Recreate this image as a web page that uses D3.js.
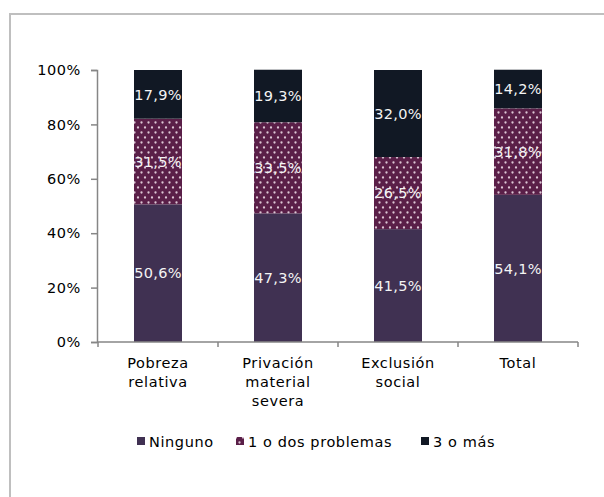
<!DOCTYPE html>
<html><head><meta charset="utf-8">
<script src="https://cdn.jsdelivr.net/npm/d3@7"></script>
<style>
body{margin:0;background:#fff;}
text{font-family:"DejaVu Sans",Verdana,sans-serif;}
</style></head>
<body>
<svg id="c" width="604" height="497"></svg>
<script>
const categories = [["Pobreza","relativa"],["Privación","material","severa"],["Exclusión","social"],["Total"]];
const seriesNames = ["Ninguno","1 o dos problemas","3 o más"];
const ninguno = [50.6, 47.3, 41.5, 54.1];
const unoDos = [31.5, 33.5, 26.5, 31.8];
const tresMas = [17.9, 19.3, 32.0, 14.2];
const yTicks = [0,20,40,60,80,100];
const fmt = v => v.toFixed(1).replace(".", ",") + "%";

const FS = 14.5, LS = "0.6px";
const svg = d3.select("#c");
const defs = svg.append("defs");
const pat = defs.append("pattern").attr("id","dots").attr("patternUnits","userSpaceOnUse")
  .attr("width",7).attr("height",10);
pat.append("rect").attr("width",7).attr("height",10).attr("fill","#5a1f48");
[[1.5,2.5],[5,7.5]].forEach(([x,y])=>{
  pat.append("circle").attr("cx",x).attr("cy",y).attr("r",1.15).attr("fill","#dcc6d4");
});
const colors = ["#403152","url(#dots)","#111824"];
const legendColors = ["#403152","#7a3a68","#111824"];

// outer border
svg.append("rect").attr("x",10).attr("y",14).attr("width",700).attr("height",600)
  .attr("fill","none").attr("stroke","#bfbfbf").attr("stroke-width",2);

const x = d3.scaleBand().domain(d3.range(categories.length)).range([98,578]).paddingInner(0.6).paddingOuter(0.3);
const y = d3.scaleLinear().domain([0,100]).range([342,70]);

const stackData = categories.map((c,i)=>({i, a:ninguno[i], b:unoDos[i], c:tresMas[i]}));
const stack = d3.stack().keys(["a","b","c"])(stackData);

const g = svg.append("g");
stack.forEach((layer,k)=>{
  g.selectAll(null).data(layer).enter().append("rect")
    .attr("x",d=>x(d.data.i)).attr("width",x.bandwidth())
    .attr("y",d=>y(d[1])).attr("height",d=>y(d[0])-y(d[1]))
    .attr("fill",colors[k]);
});
stack.forEach((layer,k)=>{
  g.selectAll(null).data(layer).enter().append("text")
    .attr("x",d=>x(d.data.i)+x.bandwidth()/2)
    .attr("y",d=>(y(d[0])+y(d[1]))/2)
    .attr("dy","0.36em").attr("text-anchor","middle")
    .attr("font-size",FS).attr("letter-spacing","0.3px").attr("fill","#f4f4f4")
    .text(d=>fmt(d[1]-d[0]));
});

// y axis
const yAxis = d3.axisLeft(y).tickValues(yTicks).tickSize(6).tickPadding(10).tickFormat(d=>d+"%");
const ya = svg.append("g").attr("transform","translate(97,0)").call(yAxis);
ya.select(".domain").attr("stroke","#868686").attr("stroke-width",1.5);
ya.selectAll(".tick line").attr("stroke","#868686").attr("stroke-width",1.5);
ya.selectAll(".tick text").attr("font-size",FS).attr("letter-spacing",LS).attr("fill","#000")
  .attr("font-family","DejaVu Sans, Verdana, sans-serif");

// x axis baseline & ticks
const xa = svg.append("g");
xa.append("line").attr("x1",97).attr("x2",578).attr("y1",y(0)).attr("y2",y(0))
  .attr("stroke","#868686").attr("stroke-width",1.5);
const step = x.step();
d3.range(categories.length+1).forEach(j=>{
  const px = 98 + j*step;
  xa.append("line").attr("x1",px).attr("x2",px).attr("y1",y(0)).attr("y2",y(0)+5)
    .attr("stroke","#868686").attr("stroke-width",1.5);
});
categories.forEach((lines,i)=>{
  const t = xa.append("text").attr("text-anchor","middle").attr("font-size",FS)
    .attr("letter-spacing",LS).attr("fill","#000");
  lines.forEach((ln,k)=>{
    t.append("tspan").attr("x",x(i)+x.bandwidth()/2).attr("y",368+k*19).text(ln);
  });
});

// legend
const legX = [137,236,421];
seriesNames.forEach((n,k)=>{
  svg.append("rect").attr("x",legX[k]).attr("y",437).attr("width",8).attr("height",8)
    .attr("fill",k===1?"url(#dots)":legendColors[k]);
  svg.append("text").attr("x",legX[k]+12).attr("y",446.5).attr("font-size",FS)
    .attr("letter-spacing",LS).attr("fill","#000").text(n);
});
</script>
</body></html>
